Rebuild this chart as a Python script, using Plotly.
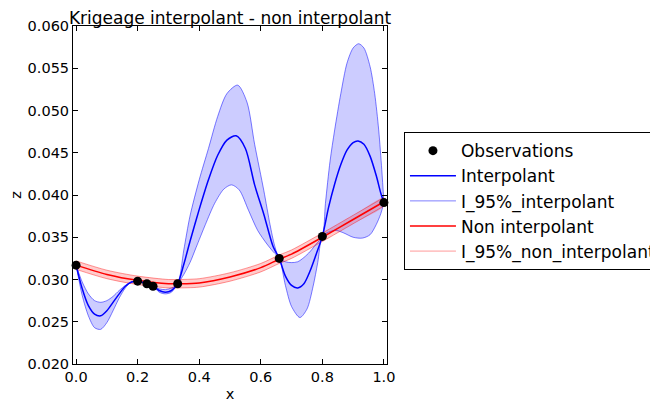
import plotly.graph_objects as go

# Observations
obs_x = [0.0, 0.2, 0.23, 0.25, 0.33, 0.66, 0.8, 1.0]
obs_z = [0.0317, 0.0298, 0.0295, 0.0292, 0.0295, 0.0325, 0.0351, 0.0391]

# Interpolant (mean)
int_x = [0.0, 0.02, 0.04, 0.06, 0.08, 0.10, 0.12, 0.14, 0.16, 0.18, 0.2, 0.23, 0.25, 0.27, 0.29, 0.31, 0.33,
         0.35, 0.37, 0.40, 0.43, 0.46, 0.49, 0.52, 0.55, 0.58, 0.61, 0.64, 0.66,
         0.68, 0.70, 0.72, 0.74, 0.76, 0.78, 0.8,
         0.82, 0.84, 0.86, 0.88, 0.90, 0.916, 0.935, 0.955, 0.975, 0.99, 1.0]
int_z = [0.0317, 0.0289, 0.0269, 0.0259, 0.0257, 0.0263, 0.0273, 0.0283, 0.0292, 0.0297, 0.0298, 0.0295, 0.0292, 0.0287, 0.0285, 0.0287, 0.0295,
         0.0318, 0.0345, 0.0383, 0.0418, 0.0447, 0.0465, 0.0470, 0.0455, 0.0412, 0.0377, 0.0339, 0.0325,
         0.0304, 0.0293, 0.0290, 0.0295, 0.0310, 0.0330, 0.0351,
         0.0385, 0.0413, 0.0436, 0.0453, 0.0462, 0.0464, 0.0460, 0.0446, 0.0423, 0.0402, 0.0391]

# Interpolant 95% upper bound
up_x = [0.0, 0.02, 0.04, 0.06, 0.08, 0.10, 0.12, 0.14, 0.16, 0.18, 0.2, 0.23, 0.25, 0.27, 0.29, 0.31, 0.33,
        0.35, 0.37, 0.40, 0.43, 0.46, 0.49, 0.525, 0.555, 0.58, 0.61, 0.63, 0.645, 0.66,
        0.68, 0.70, 0.72, 0.74, 0.76, 0.78, 0.8,
        0.81, 0.825, 0.84, 0.86, 0.88, 0.90, 0.918, 0.935, 0.955, 0.97, 0.983, 0.993, 1.0]
up_z = [0.0317, 0.0297, 0.0283, 0.0275, 0.0273, 0.0275, 0.0280, 0.0287, 0.0293, 0.0297, 0.0298, 0.0295, 0.0292, 0.0289, 0.0288, 0.0290, 0.0295,
        0.0335, 0.0375, 0.0418, 0.0455, 0.0493, 0.0520, 0.0530, 0.0510, 0.0460, 0.0405, 0.0365, 0.0340, 0.0325,
        0.0321, 0.0320, 0.0321, 0.0326, 0.0333, 0.0342, 0.0351,
        0.0390, 0.0440, 0.0477, 0.0520, 0.0556, 0.0574, 0.0579, 0.0574, 0.0552, 0.0520, 0.0477, 0.0430, 0.0391]

# Interpolant 95% lower bound
lo_x = [0.0, 0.02, 0.04, 0.06, 0.08, 0.10, 0.12, 0.14, 0.16, 0.18, 0.2, 0.23, 0.25, 0.27, 0.29, 0.31, 0.33,
        0.35, 0.37, 0.39, 0.42, 0.45, 0.48, 0.505, 0.53, 0.56, 0.59, 0.62, 0.64, 0.66,
        0.68, 0.70, 0.727, 0.75, 0.77, 0.785, 0.8,
        0.82, 0.845, 0.87, 0.90, 0.93, 0.955, 0.975, 0.99, 1.0]
lo_z = [0.0317, 0.0281, 0.0257, 0.0243, 0.0241, 0.0249, 0.0263, 0.0278, 0.0290, 0.0297, 0.0298, 0.0295, 0.0292, 0.0285, 0.0283, 0.0285, 0.0295,
        0.0306, 0.0320, 0.0338, 0.0365, 0.0390, 0.0407, 0.0412, 0.0406, 0.0382, 0.0358, 0.0342, 0.0333, 0.0325,
        0.0293, 0.0268, 0.0255, 0.0265, 0.0292, 0.0320, 0.0351,
        0.0356, 0.0358, 0.0355, 0.0350, 0.0349, 0.0353, 0.0365, 0.0378, 0.0391]

# Non interpolant (mean and 95% band)
ni_x = [0.0, 0.1, 0.2, 0.3, 0.33, 0.4, 0.5, 0.6, 0.66, 0.7, 0.8, 0.9, 1.0]
ni_z = [0.0317, 0.0306, 0.0299, 0.0295, 0.0295, 0.0296, 0.0303, 0.0314, 0.0324, 0.0330, 0.0350, 0.0371, 0.0392]
ni_up = [0.0322, 0.0311, 0.0304, 0.0300, 0.0300, 0.0301, 0.0308, 0.0319, 0.0329, 0.0335, 0.0355, 0.0376, 0.0397]
ni_lo = [0.0312, 0.0301, 0.0294, 0.0290, 0.0290, 0.0291, 0.0298, 0.0309, 0.0319, 0.0325, 0.0345, 0.0366, 0.0387]

BLUE = "#0000ff"
BLUE_BAND = "rgba(0,0,255,0.5)"
BLUE_FILL = "rgba(0,0,255,0.2)"
RED = "#ff0000"
RED_BAND = "rgba(255,0,0,0.4)"
RED_FILL = "rgba(255,0,0,0.2)"
SP = dict(shape="spline", smoothing=0.8)

fig = go.Figure()

# Blue fill band (upper path then reversed lower path)
fig.add_trace(go.Scatter(x=up_x + lo_x[::-1], y=up_z + lo_z[::-1], mode="lines",
                         fill="toself", fillcolor=BLUE_FILL, line=dict(width=0, **SP),
                         showlegend=False, hoverinfo="skip"))
fig.add_trace(go.Scatter(x=up_x, y=up_z, mode="lines", line=dict(color=BLUE_BAND, width=1, **SP),
                         name="I_95%_interpolant", legendrank=3, legendgroup="bi"))
fig.add_trace(go.Scatter(x=lo_x, y=lo_z, mode="lines", line=dict(color=BLUE_BAND, width=1, **SP),
                         showlegend=False, legendgroup="bi"))

# Red fill band
fig.add_trace(go.Scatter(x=ni_x + ni_x[::-1], y=ni_up + ni_lo[::-1], mode="lines",
                         fill="toself", fillcolor=RED_FILL, line=dict(width=0, **SP),
                         showlegend=False, hoverinfo="skip"))
fig.add_trace(go.Scatter(x=ni_x, y=ni_up, mode="lines", line=dict(color=RED_BAND, width=1, **SP),
                         name="I_95%_non_interpolant", legendrank=5, legendgroup="br"))
fig.add_trace(go.Scatter(x=ni_x, y=ni_lo, mode="lines", line=dict(color=RED_BAND, width=1, **SP),
                         showlegend=False, legendgroup="br"))

fig.add_trace(go.Scatter(x=ni_x, y=ni_z, mode="lines", line=dict(color=RED, width=1.5, **SP),
                         name="Non interpolant", legendrank=4))
fig.add_trace(go.Scatter(x=int_x, y=int_z, mode="lines", line=dict(color=BLUE, width=1.5, **SP),
                         name="Interpolant", legendrank=2))

fig.add_trace(go.Scatter(x=obs_x, y=obs_z, mode="markers",
                         marker=dict(color="black", size=9, line=dict(width=0)),
                         name="Observations", legendrank=1, cliponaxis=False))

axis_common = dict(showgrid=False, zeroline=False, showline=True, linecolor="black", linewidth=1,
                   mirror="ticks", ticks="inside", ticklen=5, tickcolor="black", tickwidth=1,
                   tickfont=dict(size=14.5, color="black"), automargin=False)

# The page body adds an 8px offset, so the figure is 8px smaller on each side
fig.update_layout(
    width=650, height=394,
    margin=dict(l=65, r=271, t=18, b=38, autoexpand=False),
    paper_bgcolor="white", plot_bgcolor="white",
    font=dict(family="DejaVu Sans", color="black"),
    title=dict(text="Krigeage interpolant - non interpolant", x=(65 + 379) / 2 / 650, xanchor="center",
               y=1 - 10 / 394, yanchor="middle", pad=dict(t=0, b=0), font=dict(size=17, color="black")),
    xaxis=dict(range=[-0.01, 1.01], tickvals=[0.0, 0.2, 0.4, 0.6, 0.8, 1.0],
               ticktext=["0.0", "0.2", "0.4", "0.6", "0.8", "1.0"],
               title=dict(text="x", font=dict(size=14.5), standoff=4), **axis_common),
    yaxis=dict(range=[0.020, 0.060], dtick=0.005, tickformat=".3f",
               title=dict(text="z", font=dict(size=14.5), standoff=8), **axis_common),
    legend=dict(x=1.054, y=0.686, xanchor="left", yanchor="top",
                bordercolor="black", borderwidth=1, bgcolor="white",
                font=dict(size=17, color="black"), tracegroupgap=0, itemwidth=46),
)

fig.write_html("out.html")
